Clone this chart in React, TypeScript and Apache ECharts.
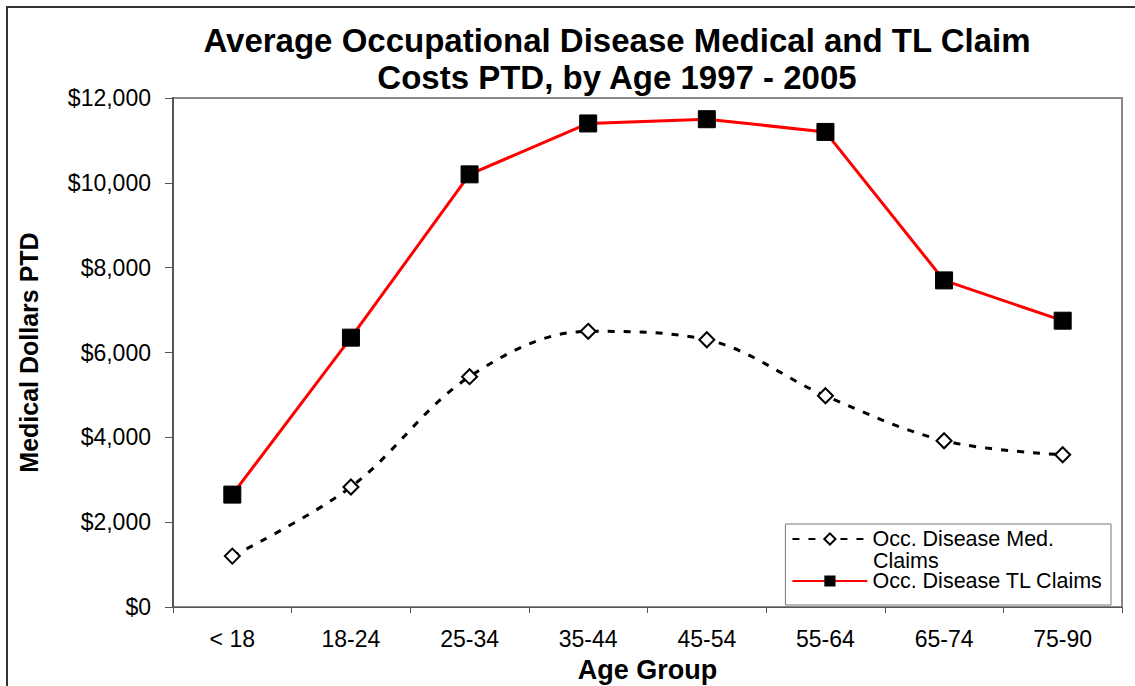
import React, { useEffect, useRef } from "react";
import * as echarts from "echarts";

const categories = ["< 18", "18-24", "25-34", "35-44", "45-54", "55-64", "65-74", "75-90"];
const medClaims = [1200, 2830, 5430, 6500, 6300, 4980, 3920, 3590];
const tlClaims = [2650, 6350, 10200, 11400, 11500, 11200, 7700, 6750];
const titleText = "Average Occupational Disease Medical and TL Claim\nCosts PTD, by Age 1997 - 2005";
const medName = "Occ. Disease Med. Claims";
const tlName = "Occ. Disease TL Claims";
const medLegendLine1 = "Occ. Disease Med.";
const medLegendLine2 = "Claims";

const FONT = "'Liberation Sans', Arial, sans-serif";

export default function App() {
  const ref = useRef<HTMLDivElement>(null);
  useEffect(() => {
    document.body.style.margin = "0";
    document.body.style.overflow = "hidden";
    const chart = echarts.init(ref.current!, undefined, { renderer: "svg" });
    chart.setOption({
      animation: false,
      backgroundColor: "#ffffff",
      textStyle: { fontFamily: FONT },
      title: {
        text: titleText,
        left: 612,
        top: 17,
        textAlign: "center",
        textStyle: { fontFamily: FONT, fontSize: 33, fontWeight: "bold", color: "#000", lineHeight: 37 },
      },
      graphic: [
        {
          type: "polyline",
          shape: { points: [[7, 686], [7, 7], [1135, 7]] },
          style: { fill: "none", stroke: "#333", lineWidth: 2 },
          silent: true,
        },
        {
          type: "text",
          x: 873,
          y: 561,
          z: 100,
          style: {
            text: medLegendLine2,
            fontFamily: FONT,
            fontSize: 21.5,
            fill: "#000",
            verticalAlign: "middle",
            align: "left",
          },
          silent: true,
        },
      ],
      grid: {
        left: 173,
        right: 13,
        top: 98,
        bottom: 79,
        outerBoundsMode: "none",
        containLabel: false,
        show: true,
        borderColor: "#888",
        borderWidth: 2,
      },
      legend: {
        orient: "vertical",
        right: 24,
        bottom: 81,
        padding: [4, 8, 13, 6],
        itemGap: 20,
        itemWidth: 75,
        itemHeight: 14,
        borderColor: "#777",
        borderWidth: 1,
        backgroundColor: "#fff",
        textStyle: { fontFamily: FONT, fontSize: 21.5, color: "#000", lineHeight: 21 },
        formatter: (name: string) => (name === medName ? medLegendLine1 : name),
        data: [medName, tlName],
      },
      xAxis: {
        type: "category",
        data: categories,
        boundaryGap: true,
        axisLine: { lineStyle: { color: "#555", width: 1 } },
        axisTick: { show: true, length: 6, lineStyle: { color: "#555" } },
        axisLabel: { fontFamily: FONT, fontSize: 23, color: "#000", margin: 20 },
        name: "Age Group",
        nameLocation: "middle",
        nameGap: 49,
        nameTextStyle: { fontFamily: FONT, fontSize: 27, fontWeight: "bold", color: "#000" },
      },
      yAxis: {
        type: "value",
        min: 0,
        max: 12000,
        interval: 2000,
        splitLine: { show: false },
        axisLine: { show: true, lineStyle: { color: "#555", width: 2 } },
        axisTick: { show: true, length: 8, lineStyle: { color: "#555" } },
        axisLabel: {
          fontFamily: FONT,
          fontSize: 23,
          color: "#000",
          margin: 22,
          formatter: (v: number) => "$" + v.toLocaleString("en-US"),
        },
        name: "Medical Dollars PTD",
        nameLocation: "middle",
        nameGap: 132,
        nameRotate: 90,
        nameTextStyle: { fontFamily: FONT, fontSize: 25, fontWeight: "bold", color: "#000" },
      },
      series: [
        {
          name: medName,
          type: "line",
          data: medClaims,
          smooth: 0.35,
          symbol: "diamond",
          symbolSize: 15,
          itemStyle: { color: "#fff", borderColor: "#000", borderWidth: 2 },
          lineStyle: { color: "#000", width: 3, type: [7, 9] },
          z: 2,
        },
        {
          name: tlName,
          type: "line",
          data: tlClaims,
          symbol: "rect",
          symbolSize: 17,
          itemStyle: { color: "#000", borderColor: "#000" },
          lineStyle: { color: "#ff0000", width: 3 },
          z: 3,
        },
      ],
    });
    return () => chart.dispose();
  }, []);
  return <div ref={ref} style={{ width: 1135, height: 686, position: "absolute", left: 0, top: 0 }} />;
}
